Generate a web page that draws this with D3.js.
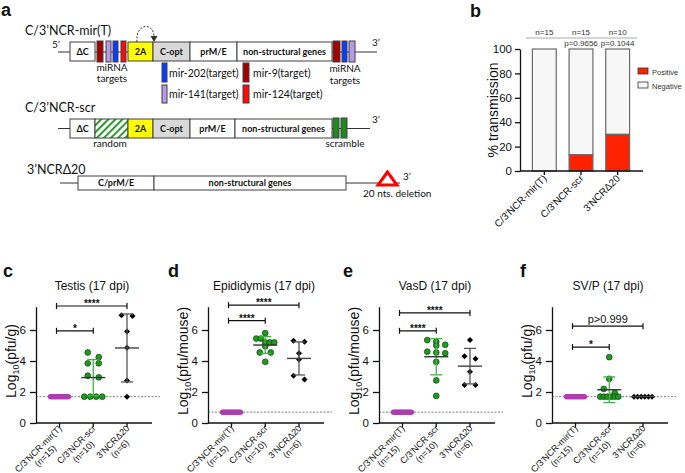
<!doctype html>
<html lang="en">
<head>
<meta charset="utf-8">
<title>Transmission and tissue titers</title>
<script src="https://d3js.org/d3.v7.min.js"></script>
<style>
  body { margin: 0; background: #fff; }
  svg text { font-family: "Liberation Sans", Arial, sans-serif; fill: #111; }
  .sch text { font-family: Lato, "Open Sans", sans-serif; }
</style>
</head>
<body>
<svg id="fig" width="685" height="473"></svg>
<script>
// ---- panel b data
var transGroups = ["C/3'NCR-mir(T)", "C/3'NCR-scr", "3'NCRΔ20"];
var transPositive = [0, 13.3, 30];
var transNegative = [100, 86.7, 70];
var transN = ["n=15", "n=15", "n=10"];
var transP = ["", "p=0.9656", "p=0.1044"];
var transTicks = [0, 20, 40, 60, 80, 100];

// ---- panels c-f data (log10 titers)
var groups = ["C/3'NCR-mir(T)", "C/3'NCR-scr", "3'NCRΔ20"];
var groupN = ["(n=15)", "(n=10)", "(n=6)"];
var logTicks = [0, 2, 4, 6];

var testisMir = [1.7, 1.7, 1.7, 1.7, 1.7, 1.7, 1.7, 1.7, 1.7, 1.7, 1.7, 1.7, 1.7, 1.7, 1.7];
var testisScr = [4.55, 4.25, 3.85, 3.85, 3.05, 2.95, 1.7, 1.7, 1.7, 1.7];
var testisD20 = [6.95, 6.9, 5.9, 4.85, 2.75, 1.7];
var testisSig = [[0, 1, 5.95, "*"], [0, 2, 7.55, "****"]];

var epiMir = [0.7, 0.7, 0.7, 0.7, 0.7, 0.7, 0.7, 0.7, 0.7, 0.7, 0.7, 0.7, 0.7, 0.7, 0.7];
var epiScr = [5.8, 5.45, 5.45, 5.2, 5.2, 5.2, 4.95, 4.55, 4.55, 3.95];
var epiD20 = [5.3, 5.25, 4.5, 4.1, 3.05, 2.8];
var epiSig = [[0, 1, 6.6, "****"], [0, 2, 7.6, "****"]];

var vasMir = [0.7, 0.7, 0.7, 0.7, 0.7, 0.7, 0.7, 0.7, 0.7, 0.7, 0.7, 0.7, 0.7, 0.7, 0.7];
var vasScr = [5.35, 5.25, 5.05, 5.0, 4.6, 4.55, 4.5, 3.95, 2.75, 1.75];
var vasD20 = [5.35, 4.3, 4.15, 3.3, 2.45, 2.45];
var vasSig = [[0, 1, 5.95, "****"], [0, 2, 7.1, "****"]];

var svpMir = [1.7, 1.7, 1.7, 1.7, 1.7, 1.7, 1.7, 1.7, 1.7, 1.7, 1.7, 1.7, 1.7, 1.7, 1.7];
var svpScr = [4.25, 2.85, 2.2, 1.95, 1.7, 1.7, 1.7, 1.7, 1.7, 1.7];
var svpD20 = [1.7, 1.7, 1.7, 1.7, 1.7, 1.7];
var svpSig = [[0, 1, 4.9, "*"], [0, 2, 6.25, "p>0.999"]];

var svg = d3.select("#fig");

// panel letters
[["a", 1, 16], ["b", 470, 17], ["c", 3, 277], ["d", 168, 277], ["e", 343, 277], ["f", 520, 277]]
  .forEach(function(l) {
    svg.append("text").attr("x", l[1]).attr("y", l[2]).attr("font-size", 18)
      .attr("font-weight", "bold").text(l[0]);
  });

// ================= panel a : schematic =================
var sch = svg.append("g").attr("class", "sch");
var defs = svg.append("defs");
var pat = defs.append("pattern").attr("id", "hatch").attr("patternUnits", "userSpaceOnUse")
  .attr("width", 5).attr("height", 5).attr("patternTransform", "rotate(45)");
pat.append("rect").attr("width", 5).attr("height", 5).attr("fill", "#fff");
pat.append("rect").attr("x", 0).attr("width", 2).attr("height", 5).attr("fill", "#2e9a2e");

function hline(x1, x2, y) {
  sch.append("line").attr("x1", x1).attr("x2", x2).attr("y1", y).attr("y2", y)
    .attr("stroke", "#333").attr("stroke-width", 1);
}
function seg(x1, x2, y1, y2, fill, label) {
  sch.append("rect").attr("x", x1).attr("y", y1).attr("width", x2 - x1).attr("height", y2 - y1)
    .attr("fill", fill).attr("stroke", "#404040").attr("stroke-width", 1);
  if (label) {
    sch.append("text").attr("x", (x1 + x2) / 2).attr("y", (y1 + y2) / 2 + 3)
      .attr("text-anchor", "middle").attr("font-size", 9).attr("font-weight", "bold").text(label);
  }
}
function note(x, y, t, size, anchor) {
  sch.append("text").attr("x", x).attr("y", y).attr("font-size", size || 10)
    .attr("text-anchor", anchor || "start").text(t);
}

// row 1
note(25, 35, "C/3’NCR-mir(T)", 12.5);
note(52, 48, "5’", 10);
hline(58, 377, 52);
seg(70, 95, 42, 61, "#fff", "ΔC");
seg(97, 103, 41, 62, "#a50000");
seg(106, 111, 41, 62, "#b59be8");
seg(113, 118, 41, 62, "#0a3cff");
seg(121, 126, 41, 62, "#ff0a0a");
seg(128, 153, 42, 61, "#ffff00", "2A");
seg(153, 190, 42, 61, "#d9d9d9", "C-opt");
seg(190, 237, 42, 61, "#fff", "prM/E");
seg(237, 332, 42, 61, "#fff", "non-structural genes");
seg(333, 340, 41, 62, "#a50000");
seg(342, 347, 41, 62, "#0a3cff");
seg(349, 355, 41, 62, "#b59be8");
note(372, 46, "3’", 10);
note(112, 71, "miRNA", 10, "middle");
note(112, 82, "targets", 10, "middle");
note(345, 72, "miRNA", 10, "middle");
note(345, 84, "targets", 10, "middle");
sch.append("path").attr("d", "M137,42 C135,22 155,22 154,38").attr("fill", "none")
  .attr("stroke", "#333").attr("stroke-dasharray", "2,1.5");
sch.append("path").attr("d", "M150.5,36 L154,42 L157.5,36 Z").attr("fill", "#333");

// legend of targets
seg(162, 167, 63, 82, "#0a3cff");
seg(162, 167, 85, 103, "#b59be8");
seg(243, 249, 63, 82, "#a50000");
seg(243, 249, 85, 103, "#ff0a0a");
note(169, 77, "mir-202(target)", 10.5);
note(169, 98, "mir-141(target)", 10.5);
note(253, 77, "mir-9(target)", 10.5);
note(253, 98, "mir-124(target)", 10.5);

// row 2
note(25, 112, "C/3’NCR-scr", 12.5);
hline(58, 370, 128.5);
seg(70, 95, 119, 138, "#fff", "ΔC");
seg(95, 128, 119, 138, "url(#hatch)");
seg(128, 153, 119, 138, "#ffff00", "2A");
seg(153, 190, 119, 138, "#d9d9d9", "C-opt");
seg(190, 235, 119, 138, "#fff", "prM/E");
seg(235, 332, 119, 138, "#fff", "non-structural genes");
seg(333, 339, 118, 138, "#1f8a1f");
seg(341, 347, 118, 138, "#1f8a1f");
note(372, 123, "3’", 10);
note(110, 147, "random", 10, "middle");
note(345, 147, "scramble", 10, "middle");

// row 3
note(27, 174, "3’NCRΔ20", 12.5);
hline(60, 400, 183);
seg(78, 154, 176, 190, "#fff", "C/prM/E");
seg(154, 346, 176, 190, "#fff", "non-structural genes");
sch.append("path").attr("d", "M387.5,172 L378,185 L397,185 Z").attr("fill", "#fff")
  .attr("stroke", "#ff0000").attr("stroke-width", 3).attr("stroke-linejoin", "miter");
note(403, 180, "3’", 10);
note(363, 197, "20 nts. deletion", 10);

// ================= panel b : stacked bars =================
var bY = d3.scaleLinear().domain([0, 100]).range([171, 49]);
var bX = d3.scaleBand().domain(transGroups).range([526, 636]).paddingInner(0.35).paddingOuter(0.175);
var gb = svg.append("g");

gb.selectAll(".neg").data(transGroups).enter().append("rect")
  .attr("x", function(d) { return bX(d); })
  .attr("width", bX.bandwidth())
  .attr("y", function(d, i) { return bY(transPositive[i] + transNegative[i]); })
  .attr("height", function(d, i) { return bY(transPositive[i]) - bY(transPositive[i] + transNegative[i]); })
  .attr("fill", "#f7f7f7").attr("stroke", "#6a6a6a").attr("stroke-width", 1.2);
gb.selectAll(".pos").data(transGroups).enter().append("rect")
  .attr("x", function(d) { return bX(d); })
  .attr("width", bX.bandwidth())
  .attr("y", function(d, i) { return bY(transPositive[i]); })
  .attr("height", function(d, i) { return bY(0) - bY(transPositive[i]); })
  .attr("fill", "#ff2200").attr("stroke", "#6a6a6a").attr("stroke-width", 1.2);

var bya = gb.append("g").attr("transform", "translate(520,0)")
  .call(d3.axisLeft(bY).tickValues(transTicks).tickSize(5).tickSizeOuter(0).tickPadding(3));
bya.selectAll("text").attr("font-size", 11.5);
bya.selectAll("path,line").attr("stroke", "#111").attr("stroke-width", 1.3);

gb.append("line").attr("x1", 520).attr("x2", 643).attr("y1", 171).attr("y2", 171)
  .attr("stroke", "#111").attr("stroke-width", 1.3);
gb.selectAll(".bxt").data(transGroups).enter().append("line")
  .attr("x1", function(d) { return bX(d) + bX.bandwidth() / 2; })
  .attr("x2", function(d) { return bX(d) + bX.bandwidth() / 2; })
  .attr("y1", 171).attr("y2", 175).attr("stroke", "#111").attr("stroke-width", 1.3);
gb.selectAll(".bxl").data(transGroups).enter().append("text")
  .attr("transform", function(d) {
    return "translate(" + (bX(d) + bX.bandwidth() / 2 + 3) + ",179) rotate(-45)";
  })
  .attr("text-anchor", "end").attr("font-size", 10).text(function(d) { return d; });

gb.append("text").attr("transform", "translate(498,110) rotate(-90)")
  .attr("text-anchor", "middle").attr("font-size", 14).text("% transmission");

// n / p annotations
gb.append("line").attr("x1", 526).attr("x2", 637).attr("y1", 38).attr("y2", 38)
  .attr("stroke", "#aaa").attr("stroke-width", 1);
gb.selectAll(".nlab").data(transN).enter().append("text")
  .attr("x", function(d, i) { return bX(transGroups[i]) + bX.bandwidth() / 2; })
  .attr("y", 35).attr("text-anchor", "middle").attr("font-size", 8).style("fill", "#333")
  .text(function(d) { return d; });
gb.selectAll(".plab").data(transP).enter().append("text")
  .attr("x", function(d, i) { return bX(transGroups[i]) + bX.bandwidth() / 2; })
  .attr("y", 46).attr("text-anchor", "middle").attr("font-size", 8).style("fill", "#333")
  .text(function(d) { return d; });

// legend
var legend = [["Positive", "#ff2200"], ["Negative", "#f7f7f7"]];
legend.forEach(function(l, i) {
  gb.append("rect").attr("x", 638).attr("y", 68 + i * 14).attr("width", 10).attr("height", 6)
    .attr("fill", l[1]).attr("stroke", "#333").attr("stroke-width", 0.8);
  gb.append("text").attr("x", 652).attr("y", 74.5 + i * 14).attr("font-size", 7.5)
    .style("fill", "#333").text(l[0]);
});

// ================= panels c-f : scatter with mean ± SD =================
function swarm(vals, cx, y) {
  var sorted = vals.map(function(v) { return v; }).sort(function(a, b) { return b - a; });
  var rows = [], cur = null;
  sorted.forEach(function(v) {
    var py = y(v);
    if (cur && py - cur.top < 5) cur.pts.push(v);
    else { cur = { top: py, pts: [v] }; rows.push(cur); }
  });
  var out = [];
  rows.forEach(function(r) {
    var k = r.pts.length;
    var sp = k == 2 ? 11 : k == 3 ? 9 : 6.5;
    if (k > 1 && sp * (k - 1) > 18) sp = 18 / (k - 1);
    r.pts.forEach(function(v, j) {
      out.push({ v: v, x: cx + (j - (k - 1) / 2) * sp, y: y(v) });
    });
  });
  return out;
}

var panels = [
  { title: "Testis (17 dpi)", unit: "(pfu/g)", x0: 36, lod: 1.7, data: [testisMir, testisScr, testisD20], sig: testisSig },
  { title: "Epididymis (17 dpi)", unit: "(pfu/mouse)", x0: 208, lod: 0.7, data: [epiMir, epiScr, epiD20], sig: epiSig },
  { title: "VasD (17 dpi)", unit: "(pfu/mouse)", x0: 379, lod: 0.7, data: [vasMir, vasScr, vasD20], sig: vasSig },
  { title: "SV/P (17 dpi)", unit: "(pfu/g)", x0: 552, lod: 1.7, data: [svpMir, svpScr, svpD20], sig: svpSig }
];

var groupFill = ["#b03cb0", "#1f9a1f", "#000"];
var sdColor = ["#b03cb0", "#45b045", "#555"];
var meanColor = ["#b03cb0", "#333", "#444"];

panels.forEach(function(p) {
  var g = svg.append("g");
  var x0 = p.x0;
  var y = d3.scaleLinear().domain([0, 7.5]).range([423, 306.75]);
  var x = d3.scalePoint().domain(groups).range([x0 + 23.5, x0 + 91]);

  g.append("text").attr("x", x0 + 56).attr("y", 290).attr("text-anchor", "middle")
    .attr("font-size", 12).text(p.title);

  var ya = g.append("g").attr("transform", "translate(" + x0 + ",0)")
    .call(d3.axisLeft(y).tickValues(logTicks).tickSize(6).tickSizeOuter(0).tickPadding(4));
  ya.selectAll("text").attr("font-size", 11.5);
  ya.selectAll("path,line").attr("stroke", "#111").attr("stroke-width", 1.3);

  g.append("line").attr("x1", x0).attr("x2", x0 + 116).attr("y1", 423).attr("y2", 423)
    .attr("stroke", "#111").attr("stroke-width", 1.3);
  g.selectAll(".xt").data(groups).enter().append("line")
    .attr("x1", function(d) { return x(d); }).attr("x2", function(d) { return x(d); })
    .attr("y1", 423).attr("y2", 427).attr("stroke", "#111").attr("stroke-width", 1.3);

  // x labels, two lines centred on each other
  groups.forEach(function(gname, i) {
    var t = g.append("g").attr("transform", "translate(" + (x(gname) + 3) + ",429) rotate(-45)");
    var l1 = t.append("text").attr("text-anchor", "end").attr("font-size", 9).text(gname);
    var len = l1.node().getComputedTextLength();
    t.append("text").attr("text-anchor", "middle").attr("x", -len / 2).attr("y", 10)
      .attr("font-size", 9).text(groupN[i]);
  });

  var yl = g.append("text").attr("transform", "translate(" + (x0 - 20) + ",361) rotate(-90)")
    .attr("text-anchor", "middle").attr("font-size", 14);
  yl.append("tspan").text("Log");
  yl.append("tspan").attr("font-size", 9).attr("dy", 3).text("10");
  yl.append("tspan").attr("dy", -3).text(p.unit);

  // detection limit
  g.append("line").attr("x1", x0).attr("x2", x0 + 124).attr("y1", y(p.lod)).attr("y2", y(p.lod))
    .attr("stroke", "#444").attr("stroke-width", 0.7).attr("stroke-dasharray", "2,1.5");

  p.data.forEach(function(vals, i) {
    var cx = x(groups[i]);
    var m = d3.mean(vals), sd = d3.deviation(vals) || 0;
    var pts = swarm(vals, cx, y);
    var sym = d3.symbol().type(d3.symbolSquare).size(18);

    var sel = g.selectAll(".pt" + i).data(pts).enter();
    if (i == 2) {
      sel.append("path").attr("d", sym)
        .attr("transform", function(d) { return "translate(" + d.x + "," + d.y + ") rotate(45)"; })
        .attr("fill", groupFill[i]);
    } else {
      sel.append("circle").attr("cx", function(d) { return d.x; }).attr("cy", function(d) { return d.y; })
        .attr("r", i == 0 ? 2.6 : 2.9).attr("fill", groupFill[i])
        .attr("stroke", i == 0 ? "none" : "#0d400d").attr("stroke-width", 0.7);
    }

    if (sd > 0) {
      g.append("line").attr("x1", cx).attr("x2", cx).attr("y1", y(m + sd)).attr("y2", y(m - sd))
        .attr("stroke", sdColor[i]).attr("stroke-width", 1.3);
      [m + sd, m - sd].forEach(function(v) {
        g.append("line").attr("x1", cx - 6).attr("x2", cx + 6).attr("y1", y(v)).attr("y2", y(v))
          .attr("stroke", sdColor[i]).attr("stroke-width", 1.3);
      });
    }
    if (i > 0) {
      g.append("line").attr("x1", cx - 12).attr("x2", cx + 12).attr("y1", y(m)).attr("y2", y(m))
        .attr("stroke", meanColor[i]).attr("stroke-width", 1.4);
    }
  });

  // significance brackets
  p.sig.forEach(function(s) {
    var xa = x(groups[s[0]]) - 3, xb = x(groups[s[1]]), yy = y(s[2]);
    g.append("line").attr("x1", xa).attr("x2", xb).attr("y1", yy).attr("y2", yy)
      .attr("stroke", "#111").attr("stroke-width", 1.2);
    [xa, xb].forEach(function(xx) {
      g.append("line").attr("x1", xx).attr("x2", xx).attr("y1", yy - 3).attr("y2", yy + 3)
        .attr("stroke", "#111").attr("stroke-width", 1.2);
    });
    var star = s[3].charAt(0) == "*";
    g.append("text").attr("x", (xa + xb) / 2).attr("y", star ? yy + 1 : yy - 3)
      .attr("text-anchor", "middle").attr("font-size", star ? 10 : 11)
      .attr("font-weight", star ? "bold" : "normal").text(s[3]);
  });
});
</script>
</body>
</html>
